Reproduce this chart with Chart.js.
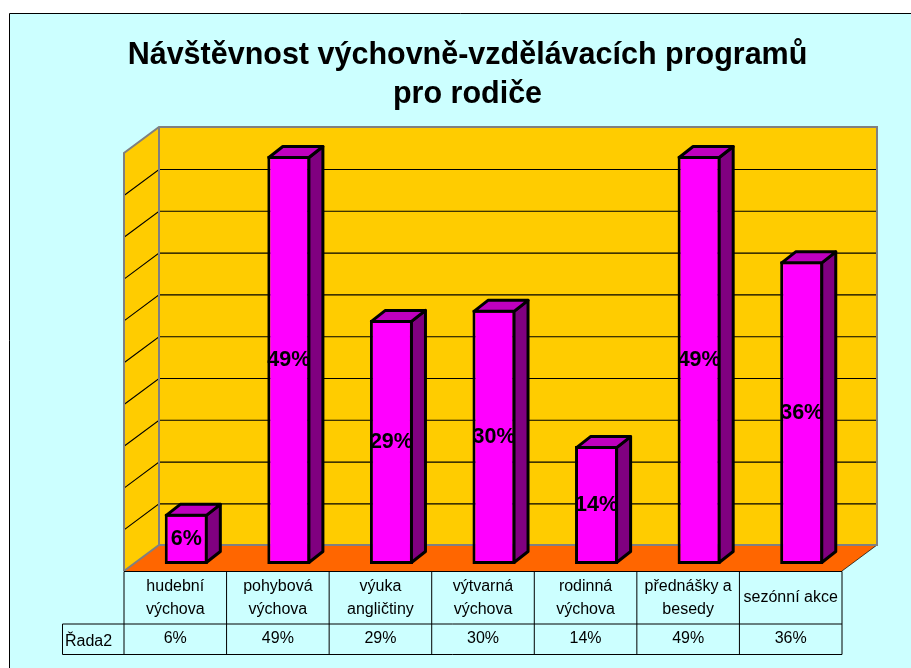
<!DOCTYPE html>
<html>
<head>
<meta charset="utf-8">
<style>html,body{margin:0;padding:0;background:#fff}canvas{display:block}</style>
<script src="https://cdn.jsdelivr.net/npm/chart.js@4"></script>
</head>
<body>
<canvas id="c" width="911" height="668"></canvas>
<script>
const categories = [["hudební","výchova"],["pohybová","výchova"],["výuka","angličtiny"],["výtvarná","výchova"],["rodinná","výchova"],["přednášky a","besedy"],"sezónní akce"];
const seriesName = "Řada2";
const values = [6.0, 48.8, 29.2, 30.4, 14.1, 48.8, 36.2];
const titleLines = ["Návštěvnost výchovně-vzdělávacích programů","pro rodiče"];
const fontFam = '"Liberation Sans", Arial, sans-serif';
const pct = v => Math.round(v) + "%";

const DX = 24, DY = -19, FX = -11, FY = 7;   // 3D wall offsets around the scale plane
const BX = 14, BY = -11;                     // bar depth
const GY = 0.7;

const scene = {
  id: "scene",
  beforeDraw(chart) {
    const c = chart.ctx;
    c.save();
    c.fillStyle = "#FFFFFF"; c.fillRect(0,0,911,668);
    c.fillStyle = "#CCFFFF"; c.fillRect(10,13,901,655);
    c.strokeStyle = "#000"; c.lineWidth = 1;
    c.beginPath(); c.moveTo(9.5,668); c.lineTo(9.5,13.5); c.lineTo(911,13.5); c.stroke();
    c.restore();
  },
  beforeDatasetsDraw(chart) {
    const c = chart.ctx, a = chart.chartArea, y = chart.scales.y;
    const y0 = y.getPixelForValue(0), yT = y.getPixelForValue(50);
    const bl = a.left + DX, br = a.right + DX, fl = a.left + FX, fr = a.right + FX;
    c.save();
    // back wall
    c.fillStyle = "#FFCC00"; c.fillRect(bl, yT + DY, br - bl, y0 - yT);
    // left wall
    c.beginPath(); c.moveTo(fl, yT + FY); c.lineTo(bl, yT + DY); c.lineTo(bl, y0 + DY); c.lineTo(fl, y0 + FY); c.closePath(); c.fill();
    // floor
    c.fillStyle = "#FF6600";
    c.beginPath(); c.moveTo(fl, y0 + FY); c.lineTo(bl, y0 + DY); c.lineTo(br, y0 + DY); c.lineTo(fr, y0 + FY); c.closePath(); c.fill();
    c.strokeStyle = "#000"; c.lineWidth = 0.7;
    c.beginPath(); c.moveTo(fr, y0 + FY); c.lineTo(br, y0 + DY); c.stroke();
    // gridlines
    c.strokeStyle = "#000"; c.lineWidth = 1.1;
    y.ticks.forEach(t => {
      if (t.value === 0 || t.value === 50) return;
      const p = y.getPixelForValue(t.value) + GY;
      c.beginPath(); c.moveTo(fl, p + FY); c.lineTo(bl, p + DY); c.lineTo(br, p + DY); c.stroke();
    });
    // wall edges
    c.strokeStyle = "#808080"; c.lineWidth = 2;
    c.beginPath();
    c.moveTo(fl, y0 + FY); c.lineTo(fl, yT + FY); c.lineTo(bl, yT + DY); c.lineTo(br, yT + DY); c.lineTo(br, y0 + DY); c.lineTo(bl, y0 + DY); c.lineTo(fl, y0 + FY);
    c.moveTo(bl, yT + DY); c.lineTo(bl, y0 + DY);
    c.stroke();
    // data table
    const n = categories.length, cw = (fr - fl) / n;
    const t0 = y0 + FY + 0.5, t1 = 624, t2 = 654.5;
    c.strokeStyle = "#000"; c.lineWidth = 1;
    c.beginPath();
    c.moveTo(fl, t0); c.lineTo(fr, t0);
    c.moveTo(62.5, t1); c.lineTo(fr, t1);
    c.moveTo(62.5, t2); c.lineTo(fr, t2);
    c.moveTo(62.5, t1); c.lineTo(62.5, t2);
    for (let i = 0; i <= n; i++) { const x = fl + cw * i; c.moveTo(x, t0); c.lineTo(x, t2); }
    c.stroke();
    c.fillStyle = "#000"; c.font = "16px " + fontFam; c.textBaseline = "middle";
    c.textAlign = "left"; c.fillText(seriesName, 65, t1 + 17.5);
    c.textAlign = "center";
    values.forEach((v, i) => c.fillText(pct(v), chart.scales.x.getPixelForTick(i) + FX, t1 + 15));
    c.restore();
  },
  afterDatasetsDraw(chart) {
    const c = chart.ctx, meta = chart.getDatasetMeta(0);
    c.save();
    c.lineWidth = 3; c.strokeStyle = "#000"; c.lineJoin = "round";
    meta.data.forEach((b, i) => {
      const p = b.getProps(["x","y","base","width"], true);
      const L = p.x - p.width/2 + 1.5, R = p.x + p.width/2 - 1.5, T = p.y + 1.5, B = p.base - 1.5;
      c.fillStyle = "#800080";
      c.beginPath(); c.moveTo(R,T); c.lineTo(R+BX,T+BY); c.lineTo(R+BX,B+BY); c.lineTo(R,B); c.closePath(); c.fill(); c.stroke();
      c.fillStyle = "#BF00BF";
      c.beginPath(); c.moveTo(L,T); c.lineTo(L+BX,T+BY); c.lineTo(R+BX,T+BY); c.lineTo(R,T); c.closePath(); c.fill(); c.stroke();
      c.fillStyle = "#000"; c.font = "bold 21.5px " + fontFam; c.textAlign = "center"; c.textBaseline = "middle";
      c.fillText(pct(values[i]), p.x, (p.y + p.base)/2);
    });
    c.restore();
  }
};

new Chart(document.getElementById("c"), {
  type: "bar",
  data: { labels: categories, datasets: [{
    label: seriesName, data: values,
    backgroundColor: "#FF00FF", borderColor: "#000", borderWidth: 3, borderSkipped: false,
    barPercentage: 0.42, categoryPercentage: 1
  }]},
  options: {
    responsive: false, animation: false, devicePixelRatio: 1,
    layout: { padding: { left: 24, right: 0, top: 0, bottom: 0 } },
    plugins: {
      legend: { display: false }, tooltip: { enabled: false },
      title: { display: true, text: titleLines, color: "#000",
        font: { family: fontFam, size: 30.5, weight: "bold", lineHeight: 1.259 },
        padding: { top: 36.5, bottom: 32.7 } }
    },
    scales: {
      x: { grid: { display: false, drawTicks: false }, border: { display: false },
        ticks: { color: "#000", font: { family: fontFam, size: 16, lineHeight: 1.42 }, autoSkip: false, maxRotation: 0, minRotation: 0,
          padding: 22.5, labelOffset: FX, crossAlign: "center" },
        afterFit: s => { s.height = 104; } },
      y: { min: 0, max: 50, grid: { display: false, drawTicks: false }, border: { display: false },
        ticks: { display: false, stepSize: 5 }, afterFit: s => { s.width = 111; } },
      y2: { position: "right", min: 0, max: 50, grid: { display: false, drawTicks: false }, border: { display: false },
        ticks: { display: false }, afterFit: s => { s.width = 58; } }
    }
  },
  plugins: [scene]
});
</script>
</body>
</html>
